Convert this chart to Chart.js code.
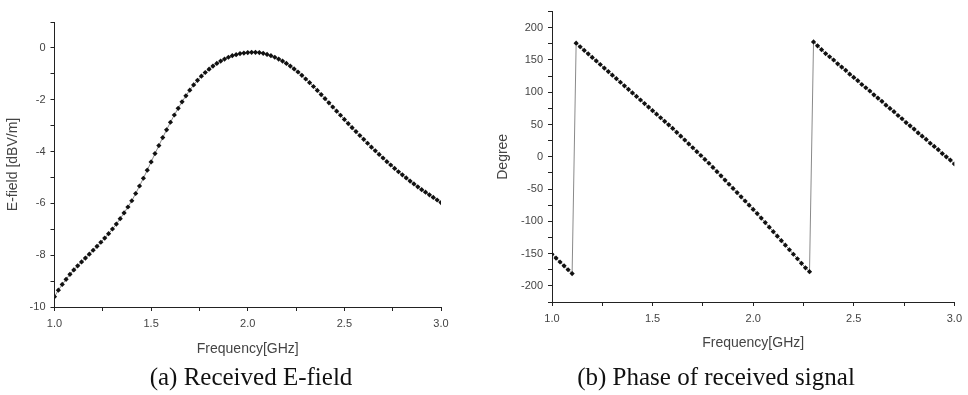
<!DOCTYPE html>
<html>
<head>
<meta charset="utf-8">
<script src="https://cdn.jsdelivr.net/npm/chart.js@4.4.1/dist/chart.umd.min.js"></script>
<style>
    html, body { margin: 0; padding: 0; background: #fff; }
    #wrap { position: relative; width: 968px; height: 395px; overflow: hidden; }
    canvas { position: absolute; top: 0; }
    .caption {
        position: absolute;
        top: 363px;
        font-family: "Liberation Serif", "DejaVu Serif", serif;
        font-size: 25px;
        color: #111;
        white-space: nowrap;
        transform: translateX(-50%);
    }
</style>
</head>
<body>
<div id="wrap">
    <canvas id="efieldChart" width="480" height="365" style="left:0"></canvas>
    <canvas id="phaseChart" width="488" height="365" style="left:480px"></canvas>
    <div class="caption" style="left:251px">(a) Received E-field</div>
    <div class="caption" style="left:716px">(b) Phase of received signal</div>
</div>
<script>
// Frequency points [GHz]
const freq = [
    1.00, 1.02, 1.04, 1.06, 1.08, 1.10, 1.12, 1.14, 1.16, 1.18,
    1.20, 1.22, 1.24, 1.26, 1.28, 1.30, 1.32, 1.34, 1.36, 1.38,
    1.40, 1.42, 1.44, 1.46, 1.48, 1.50, 1.52, 1.54, 1.56, 1.58,
    1.60, 1.62, 1.64, 1.66, 1.68, 1.70, 1.72, 1.74, 1.76, 1.78,
    1.80, 1.82, 1.84, 1.86, 1.88, 1.90, 1.92, 1.94, 1.96, 1.98,
    2.00, 2.02, 2.04, 2.06, 2.08, 2.10, 2.12, 2.14, 2.16, 2.18,
    2.20, 2.22, 2.24, 2.26, 2.28, 2.30, 2.32, 2.34, 2.36, 2.38,
    2.40, 2.42, 2.44, 2.46, 2.48, 2.50, 2.52, 2.54, 2.56, 2.58,
    2.60, 2.62, 2.64, 2.66, 2.68, 2.70, 2.72, 2.74, 2.76, 2.78,
    2.80, 2.82, 2.84, 2.86, 2.88, 2.90, 2.92, 2.94, 2.96, 2.98,
    3.00
];

// Received E-field [dBV/m]
const eField = [
    -9.60, -9.35, -9.13, -8.93, -8.74, -8.57, -8.41, -8.26, -8.11, -7.96,
    -7.81, -7.66, -7.50, -7.34, -7.17, -6.99, -6.80, -6.59, -6.37, -6.14,
    -5.90, -5.62, -5.33, -5.03, -4.72, -4.40, -4.08, -3.77, -3.46, -3.16,
    -2.87, -2.59, -2.33, -2.08, -1.85, -1.63, -1.43, -1.25, -1.09, -0.95,
    -0.82, -0.70, -0.60, -0.51, -0.43, -0.36, -0.30, -0.26, -0.22, -0.20,
    -0.18, -0.17, -0.17, -0.18, -0.21, -0.25, -0.30, -0.36, -0.43, -0.51,
    -0.60, -0.70, -0.81, -0.93, -1.06, -1.20, -1.34, -1.49, -1.64, -1.80,
    -1.96, -2.12, -2.28, -2.44, -2.60, -2.76, -2.92, -3.08, -3.23, -3.38,
    -3.53, -3.68, -3.83, -3.97, -4.11, -4.25, -4.39, -4.52, -4.65, -4.78,
    -4.90, -5.02, -5.14, -5.25, -5.36, -5.47, -5.57, -5.67, -5.77, -5.87,
    -5.97
];

// Phase of received signal [degree]
const phase = [
    -151, -157, -163, -169, -175, -181, 176, 170.5, 165, 159.5,
    154, 148.5, 143, 137.5, 132, 126.5, 121, 115.5, 110, 104.5,
    99, 93.5, 88, 82.5, 77, 71.5, 66, 60.5, 55, 49.5,
    44, 38, 32, 26, 20, 14, 8, 2, -4, -10,
    -16.5, -23, -29.5, -36, -42.5, -49, -55.5, -62, -68.5, -75,
    -81.5, -88, -95, -102, -109, -116, -123, -130, -137, -144,
    -151, -158, -165, -172, -178, 178, 172, 166, 160, 155,
    150, 144, 139, 134, 128, 123, 118, 112, 107, 102,
    96, 91, 86, 80, 75, 70, 64, 59, 53, 48,
    43, 37, 32, 27, 21, 16, 11, 5, 0, -5,
    -11
];

const axisColor = '#222';
const textColor = '#444';
const tickFont = { family: '"Liberation Sans", Arial, sans-serif', size: 11 };
const titleFont = { family: '"Liberation Sans", Arial, sans-serif', size: 14 };

function xAxis(height) {
    return {
        type: 'linear',
        min: 1,
        max: 3,
        afterFit: scale => { scale.height = height; },
        border: { display: true, color: axisColor, width: 1 },
        grid: { drawOnChartArea: false, color: axisColor, tickLength: 4 },
        ticks: {
            stepSize: 0.25,
            color: textColor,
            font: tickFont,
            padding: 6,
            maxRotation: 0,
            autoSkip: false,
            callback: v => Math.abs(v * 2 - Math.round(v * 2)) < 1e-6 ? v.toFixed(1) : ''
        },
        title: { display: true, text: 'Frequency[GHz]', color: textColor, font: titleFont, padding: 0 }
    };
}

function yAxis(width, min, max, step, labelEvery, title) {
    return {
        min: min,
        max: max,
        afterFit: scale => { scale.width = width; },
        border: { display: true, color: axisColor, width: 1 },
        grid: { drawOnChartArea: false, color: axisColor, tickLength: 4 },
        ticks: {
            stepSize: step,
            color: textColor,
            font: tickFont,
            padding: 5,
            autoSkip: false,
            callback: v => v % labelEvery === 0 ? v : ''
        },
        title: { display: true, text: title, color: textColor, font: titleFont, padding: 0 }
    };
}

function dataset(values) {
    return {
        data: freq.map((f, i) => ({ x: f, y: values[i] })),
        borderColor: '#8a8a8a',
        borderWidth: 1,
        pointStyle: 'rectRot',
        pointRadius: 2.6,
        pointBorderWidth: 0,
        pointBackgroundColor: '#111',
        tension: 0
    };
}

const common = {
    responsive: false,
    animation: false,
    events: [],
    plugins: { legend: { display: false }, tooltip: { enabled: false } }
};

new Chart(document.getElementById('efieldChart'), {
    type: 'line',
    data: { datasets: [dataset(eField)] },
    options: {
        ...common,
        layout: { padding: { left: 5, top: 22, right: 39, bottom: 7 } },
        scales: {
            x: xAxis(51),
            y: yAxis(49.5, -10, 1, 1, 2, 'E-field [dBV/m]')
        }
    }
});

new Chart(document.getElementById('phaseChart'), {
    type: 'line',
    data: { datasets: [dataset(phase)] },
    options: {
        ...common,
        layout: { padding: { left: 15, top: 5, right: 13, bottom: 13 } },
        scales: {
            x: xAxis(50),
            y: yAxis(57, -225, 225, 25, 50, 'Degree')
        }
    }
});
</script>
</body>
</html>
